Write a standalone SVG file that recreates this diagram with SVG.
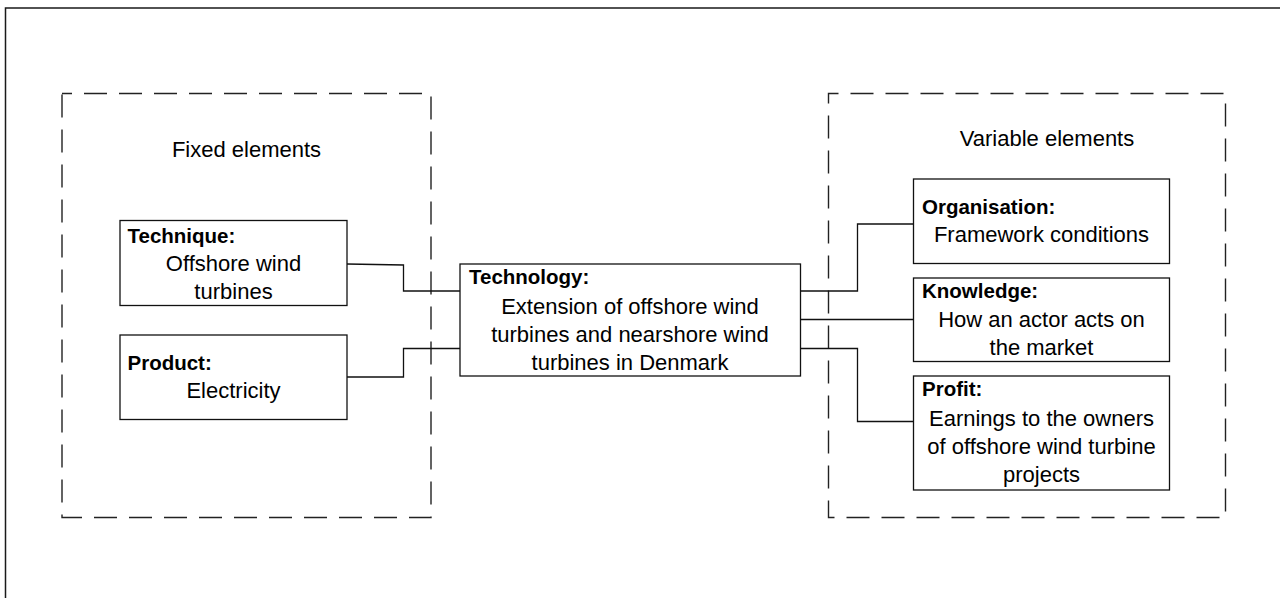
<svg xmlns="http://www.w3.org/2000/svg" width="1280" height="598" viewBox="0 0 1280 598">
<style>
.frame{fill:none;stroke:#1a1a1a;stroke-width:1.5}
.dash{fill:none;stroke:#222;stroke-width:1.4;stroke-dasharray:23 12;stroke-dashoffset:13}
.box{fill:#fff;stroke:#111;stroke-width:1.3}
.conn{fill:none;stroke:#111;stroke-width:1.3}
text{font-family:"Liberation Sans",Arial,sans-serif;fill:#000}
.t{font-size:22px}
.c{font-size:22px;text-anchor:middle}
.b{font-size:20.5px;font-weight:bold}
</style>
<rect width="1280" height="598" fill="#fff"/>
<path class="frame" d="M5.5,598 V8 H1280"/>
<g id="fixed-group">
<rect class="dash" x="62" y="93.5" width="369" height="424"/>
<text class="c" x="246.5" y="157">Fixed elements</text>
</g>
<g id="variable-group">
<rect class="dash" x="828.5" y="93.5" width="397" height="424"/>
<text class="c" x="1047" y="146">Variable elements</text>
</g>
<g id="connectors">
<polyline class="conn" points="347,264 403.5,265 403.5,291 460,291"/>
<polyline class="conn" points="347,377 403.5,377 403.5,348.5 460,348.5"/>
<polyline class="conn" points="800.5,291 857.5,291 857.5,224 913.5,224"/>
<polyline class="conn" points="800.5,319.5 913.5,319.5"/>
<polyline class="conn" points="800.5,348.5 857.5,348.5 857.5,421.5 913.5,421.5"/>
</g>
<g id="technique">
<rect class="box" x="120" y="220.5" width="227" height="85"/>
<text class="b" x="127.5" y="242.5">Technique:</text>
<text class="c" x="233.5" y="271">Offshore wind</text>
<text class="c" x="233.5" y="298.5">turbines</text>
</g>
<g id="product">
<rect class="box" x="120" y="335" width="227" height="84.5"/>
<text class="b" x="127.5" y="369.5">Product:</text>
<text class="c" x="233.5" y="397.5">Electricity</text>
</g>
<g id="technology">
<rect class="box" x="460" y="264" width="340.5" height="112"/>
<text class="b" x="469" y="283.5">Technology:</text>
<text class="c" x="630" y="313.5">Extension of offshore wind</text>
<text class="c" x="630" y="341.5">turbines and nearshore wind</text>
<text class="c" x="630" y="369.5">turbines in Denmark</text>
</g>
<g id="organisation">
<rect class="box" x="913.5" y="179" width="256" height="84.5"/>
<text class="b" x="922" y="213.5">Organisation:</text>
<text class="c" x="1041.5" y="241.5">Framework conditions</text>
</g>
<g id="knowledge">
<rect class="box" x="913.5" y="278" width="256" height="83.5"/>
<text class="b" x="922" y="297.5">Knowledge:</text>
<text class="c" x="1041.5" y="326.5">How an actor acts on</text>
<text class="c" x="1041.5" y="355">the market</text>
</g>
<g id="profit">
<rect class="box" x="913.5" y="376" width="256" height="114"/>
<text class="b" x="922" y="396">Profit:</text>
<text class="c" x="1041.5" y="425.5">Earnings to the owners</text>
<text class="c" x="1041.5" y="454">of offshore wind turbine</text>
<text class="c" x="1041.5" y="482">projects</text>
</g>
</svg>
